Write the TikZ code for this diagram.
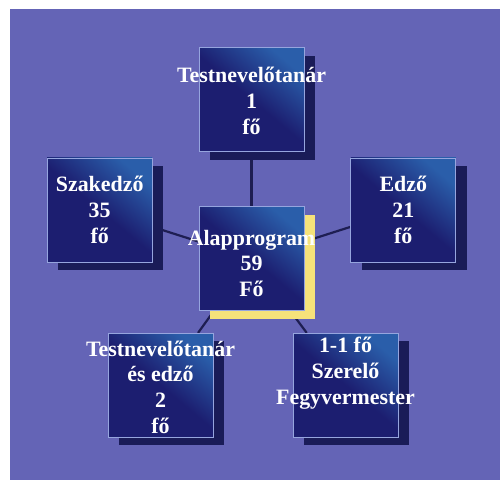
\documentclass[tikz,border=0pt]{standalone}
\usepackage{fontspec}
\setmainfont{Liberation Serif}
\usetikzlibrary{positioning,shadows}
\definecolor{bgblue}{RGB}{100,100,182}
\definecolor{boxdark}{RGB}{28,30,112}
\definecolor{boxlight}{RGB}{42,94,170}
\definecolor{boxborder}{RGB}{150,165,222}
\definecolor{shadownavy}{RGB}{26,28,88}
\definecolor{shadowgold}{RGB}{246,226,122}
\definecolor{linenavy}{RGB}{30,30,82}
\pgfdeclarelayer{back}
\pgfdeclarelayer{lines}
\pgfsetlayers{back,lines,main}

\begin{document}
\begin{tikzpicture}[x=1bp,y=-1bp,
    box/.style={draw=boxborder, line width=0.8bp, top color=boxlight, bottom color=boxdark, middle color=boxdark, shading angle=-40,
        minimum width=105bp, minimum height=104bp, inner sep=0pt,
        drop shadow={shadow xshift=11bp, shadow yshift=-8bp, fill=#1, opacity=1}},
    box/.default=shadownavy,
    boxtext/.style={text=white, font=\bfseries\fontsize{22}{26}\selectfont, align=center},
    link/.style={draw=linenavy, line width=2.2bp}]

    \useasboundingbox (0,0) rectangle (500,480);

    % Alapprogram
    \node[box=shadowgold, label={[boxtext, yshift=-5bp]center:{Alapprogram\\59\\Fő}}] (alap) at (251.5,258.5) {};

    % Testnevelotanar
    \node[box, above=54bp of alap, label={[boxtext, yshift=-1bp]center:{Testnevelőtanár\\1\\fő}}] (tanar) {};

    % Szakedzo
    \node[box, left=46bp of alap, yshift=48.5bp, label={[boxtext]center:{Szakedző\\35\\fő}}] (szak) {};

    % Edzo
    \node[box, right=46bp of alap, yshift=48.5bp, label={[boxtext]center:{Edző\\21\\fő}}] (edzo) {};

    % Testnevelotanar es edzo
    \node[box, below=22bp of alap, xshift=-91bp, label={[boxtext, yshift=-2bp]center:{Testnevelőtanár\\és edző\\2\\fő}}] (tanaredzo) {};

    % Szerelo, fegyvermester
    \node[box, below=22bp of alap, xshift=94bp, label={[boxtext, yshift=12bp]center:{1-1 fő\\Szerelő\\Fegyvermester}}] (szerelo) {};

    % Lines
    \begin{pgfonlayer}{lines}
        \draw[link] (alap) -- (tanar);
        \draw[link] (alap) -- (szak);
        \draw[link] (alap) -- (edzo);
        \draw[link] (alap) -- (tanaredzo);
        \draw[link] (alap) -- (szerelo);
    \end{pgfonlayer}

    % Background
    \begin{pgfonlayer}{back}
        \fill[bgblue] (10,9) rectangle (500,480);
    \end{pgfonlayer}
\end{tikzpicture}
\end{document}
